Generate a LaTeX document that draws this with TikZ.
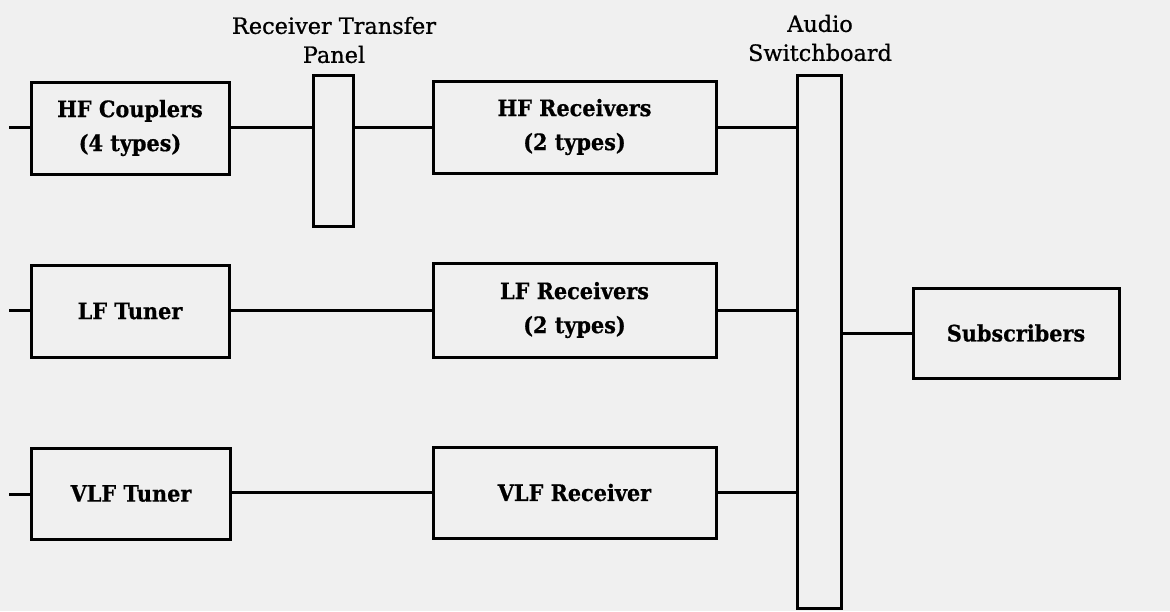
\documentclass[tikz,border=0pt]{standalone}
\usepackage{fontspec}
\setmainfont{DejaVu Serif}
\newfontfamily\boxfont{DejaVu Serif}[BoldFeatures={FakeStretch=0.92,FakeBold=0.6}]
\newfontfamily\hdrfont{DejaVu Serif}[FakeBold=0.8]
\definecolor{paper}{RGB}{240,240,240}
\begin{document}
\begin{tikzpicture}[x=0.5pt,y=-0.5pt,
  blk/.style={draw,line width=1.5pt,inner sep=0pt,align=center,font=\boxfont\fontsize{11.3}{17}\selectfont\bfseries},
  bar/.style={draw,line width=1.5pt,inner sep=0pt},
  hdr/.style={inner sep=0pt,align=center,font=\hdrfont\fontsize{11.2}{14.5}\selectfont},
  wire/.style={line width=1.5pt}]
\fill[paper] (0,0) rectangle (1170,611);
\useasboundingbox (0,0) rectangle (1170,611);
% boxes
\node[blk,minimum width=99pt,minimum height=46pt] (hfc) at (130,128) {HF Couplers\\(4 types)};
\node[bar,minimum width=20pt,minimum height=75.5pt] (rtp) at (333,150.5) {};
\node[blk,minimum width=141.5pt,minimum height=46pt] (hfr) at (574.5,127) {HF Receivers\\(2 types)};
\node[bar,minimum width=22pt,minimum height=266.5pt] (sw) at (819,341.5) {};
\node[blk,minimum width=99pt,minimum height=46pt] (lft) at (130,311) {LF Tuner};
\node[blk,minimum width=141.5pt,minimum height=47pt] (lfr) at (574.5,310) {LF Receivers\\(2 types)};
\node[blk,minimum width=103pt,minimum height=45pt] (sub) at (1016,333) {Subscribers};
\node[blk,minimum width=99.5pt,minimum height=45.5pt] (vlft) at (131,493.5) {VLF Tuner};
\node[blk,minimum width=141.5pt,minimum height=45.5pt] (vlfr) at (574.5,492.5) {VLF Receiver};
% headers
\node[hdr] (h1) at (334,40) {Receiver Transfer\\Panel};
\node[hdr] (h2) at (820,38) {Audio\\Switchboard};
% input stubs
\coordinate (i1) at (9,127);
\coordinate (i2) at (9,310);
\coordinate (i3) at (9,494);
\draw[wire] (i1) -- (i1 -| hfc.west);
\draw[wire] (i2) -- (i2 -| lft.west);
\draw[wire] (i3) -- (i3 -| vlft.west);
% connectors
\draw[wire] (hfc.east |- hfr.west) -- (rtp.west |- hfr.west);
\draw[wire] (rtp.east |- hfr.west) -- (hfr.west);
\draw[wire] (hfr.east) -- (sw.west |- hfr.east);
\draw[wire] (lft.east |- lfr.west) -- (lfr.west);
\draw[wire] (lfr.east) -- (sw.west |- lfr.east);
\draw[wire] (vlft.east |- vlfr.west) -- (vlfr.west);
\draw[wire] (vlfr.east) -- (sw.west |- vlfr.east);
\draw[wire] (sw.east |- sub.west) -- (sub.west);
\end{tikzpicture}
\end{document}
